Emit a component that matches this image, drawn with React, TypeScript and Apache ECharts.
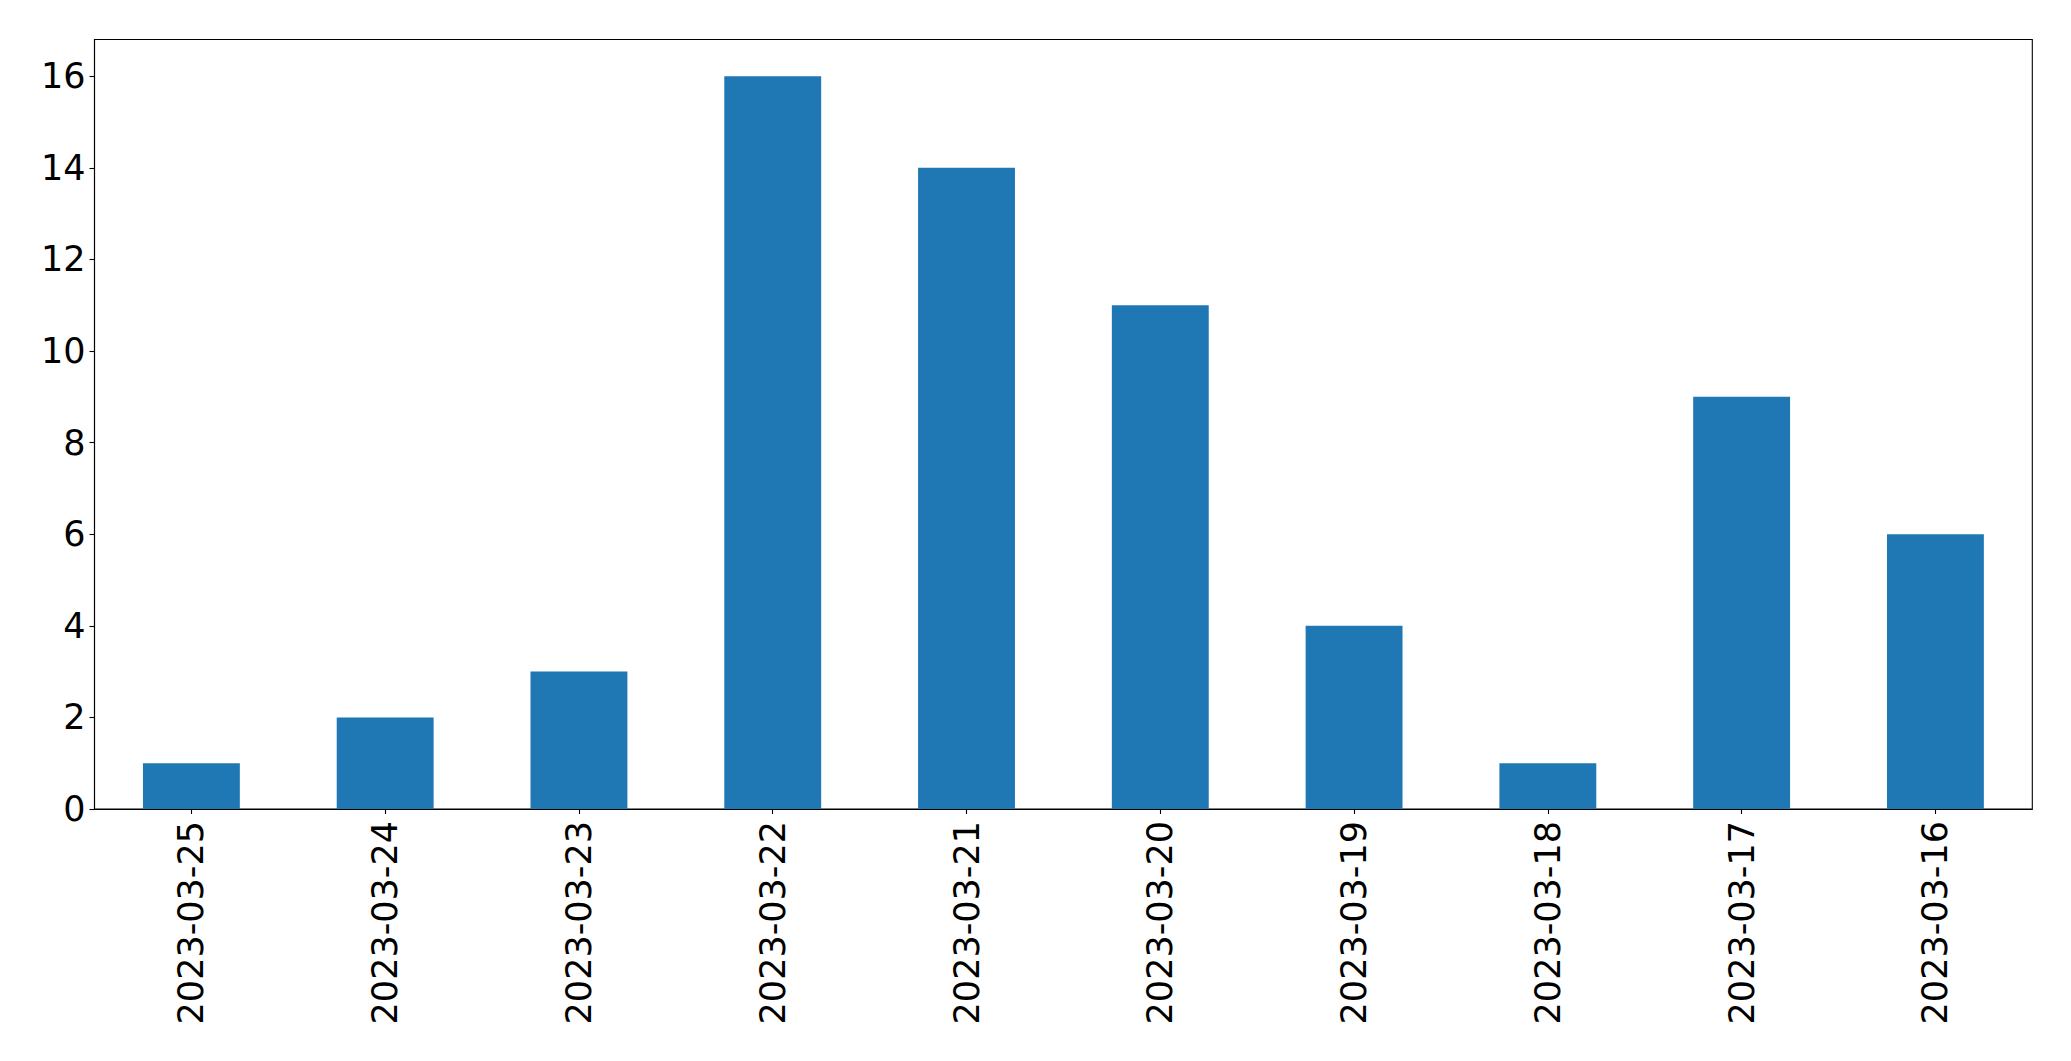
import React, { useEffect, useRef } from "react";
import * as echarts from "echarts";

const categories = [
  "2023-03-25",
  "2023-03-24",
  "2023-03-23",
  "2023-03-22",
  "2023-03-21",
  "2023-03-20",
  "2023-03-19",
  "2023-03-18",
  "2023-03-17",
  "2023-03-16",
];
const counts = [1, 2, 3, 16, 14, 11, 4, 1, 9, 6];
const yMax = 16.8;
const yInterval = 2;

export default function App() {
  const ref = useRef<HTMLDivElement>(null);
  useEffect(() => {
    if (!ref.current) return;
    const chart = echarts.init(ref.current, undefined, { renderer: "svg" });
    const font = "DejaVu Sans";
    chart.setOption({
      animation: false,
      backgroundColor: "#ffffff",
      grid: {
        left: 94.5,
        top: 39.5,
        right: 38.7,
        bottom: 252,
        show: true,
        borderColor: "#000000",
        borderWidth: 1.1,
        backgroundColor: "transparent",
      },
      xAxis: {
        type: "category",
        data: categories,
        boundaryGap: true,
        axisLine: { show: true, lineStyle: { color: "#000000", width: 1.1 } },
        axisTick: {
          show: true,
          alignWithLabel: true,
          length: 5,
          lineStyle: { color: "#000000", width: 1.1 },
        },
        axisLabel: {
          rotate: 90,
          margin: 12,
          color: "#000000",
          fontFamily: font,
          fontSize: 35,
          interval: 0,
        },
        splitLine: { show: false },
      },
      yAxis: {
        type: "value",
        min: 0,
        max: yMax,
        interval: yInterval,
        axisLine: { show: true, lineStyle: { color: "#000000", width: 1.1 } },
        axisTick: { show: true, length: 5, lineStyle: { color: "#000000", width: 1.1 } },
        axisLabel: {
          margin: 9,
          color: "#000000",
          fontFamily: font,
          fontSize: 35,
          showMaxLabel: false,
          formatter: (v: number) => (v % yInterval === 0 ? String(v) : ""),
        },
        splitLine: { show: false },
      },
      series: [
        {
          type: "bar",
          data: counts,
          barWidth: "50%",
          itemStyle: { color: "#1f77b4" },
        },
      ],
    });
    return () => chart.dispose();
  }, []);
  return (
    <div
      ref={ref}
      style={{ position: "fixed", left: 0, top: 0, width: 2071, height: 1061 }}
    />
  );
}
